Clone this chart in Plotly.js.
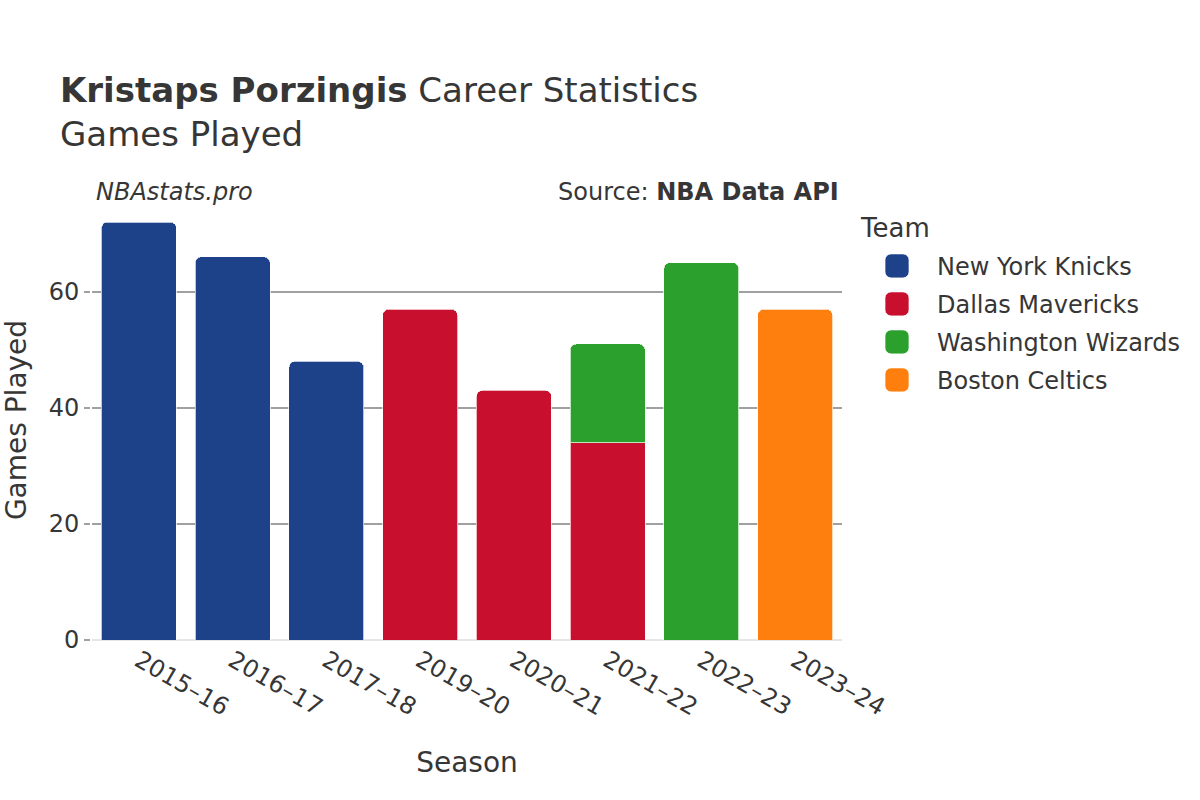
<!DOCTYPE html>
<html>
<head>
<meta charset="utf-8">
<script src="https://cdn.plot.ly/plotly-3.0.1.min.js"></script>
<style>
html, body { margin: 0; padding: 0; background: #fff; }
#frame { width: 1200px; height: 800px; position: relative; overflow: hidden; background: #fff; }
#chart { width: 600px; height: 400px; position: absolute; left: 0; top: 0; transform: scale(2); transform-origin: 0 0; }
</style>
</head>
<body>
<div id="frame"><div id="chart"></div></div>
<script>
const seasons = ["2015–16", "2016–17", "2017–18", "2019–20", "2020–21", "2021–22", "2022–23", "2023–24"];
const teams = ["New York Knicks", "Dallas Mavericks", "Washington Wizards", "Boston Celtics"];
const knicksGames = [72, 66, 48, null, null, null, null, null];
const mavericksGames = [null, null, null, 57, 43, 34, null, null];
const wizardsGames = [null, null, null, null, null, 17, 65, null];
const celticsGames = [null, null, null, null, null, null, null, 57];
const teamColors = ["#1d428a", "#c8102e", "#2ca02c", "#ff7f0e"];

const seriesValues = [knicksGames, mavericksGames, wizardsGames, celticsGames];
const fontFamily = "DejaVu Sans, Verdana, sans-serif";
const textColor = "#363636";

const traces = teams.map((name, i) => ({
  type: "bar",
  name: name,
  x: seasons,
  y: seriesValues[i],
  marker: {
    color: teamColors[i],
    cornerradius: 3,
    line: { color: "rgba(255,255,255,0.7)", width: 0.5 }
  },
  hovertemplate: "%{x}: %{y}<extra>" + name + "</extra>"
}));

const layout = {
  width: 600,
  height: 400,
  barmode: "stack",
  bargap: 0.2,
  paper_bgcolor: "#ffffff",
  plot_bgcolor: "#ffffff",
  font: { family: fontFamily, color: textColor, size: 12 },
  margin: { l: 46, r: 179, t: 100, b: 80, autoexpand: false },
  title: {
    text: "<b>Kristaps Porzingis</b> Career Statistics<br>Games Played",
    x: 0.05, xanchor: "left", xref: "container",
    y: 0.873, yanchor: "top", yref: "container",
    font: { size: 17, family: fontFamily, color: textColor }
  },
  xaxis: {
    type: "category",
    tickangle: 30,
    tickfont: { size: 12 },
    showgrid: false,
    ticks: "",
    title: { text: "Season", font: { size: 14 }, standoff: 16 },
    automargin: false
  },
  yaxis: {
    showgrid: true,
    gridcolor: "#a0a0a0",
    gridwidth: 0.5,
    zeroline: true,
    zerolinecolor: "#e6e6e6",
    zerolinewidth: 1.2,
    ticks: "outside",
    ticklen: 3,
    tickwidth: 0.5,
    tickcolor: "#a0a0a0",
    tickfont: { size: 12 },
    dtick: 20,
    title: { text: "Games Played", font: { size: 14 }, standoff: 12 },
    automargin: false
  },
  legend: {
    title: { text: "Team", font: { size: 13 } },
    font: { size: 12 },
    traceorder: "normal",
    x: 1.02, xanchor: "left",
    y: 0.993, yanchor: "top",
    bgcolor: "rgba(0,0,0,0)"
  },
  annotations: [
    {
      text: "<i>NBAstats.pro</i>",
      xref: "paper", yref: "paper",
      x: 0, y: 1, xanchor: "left", yanchor: "middle", yshift: 4,
      showarrow: false,
      font: { size: 12, family: fontFamily, color: textColor }
    },
    {
      text: "Source: <b>NBA Data API</b>",
      xref: "paper", yref: "paper",
      x: 1, y: 1, xanchor: "right", yanchor: "middle", yshift: 4,
      showarrow: false,
      font: { size: 12, family: fontFamily, color: textColor }
    }
  ]
};

Plotly.newPlot("chart", traces, layout, { displayModeBar: false, responsive: false });
</script>
</body>
</html>
